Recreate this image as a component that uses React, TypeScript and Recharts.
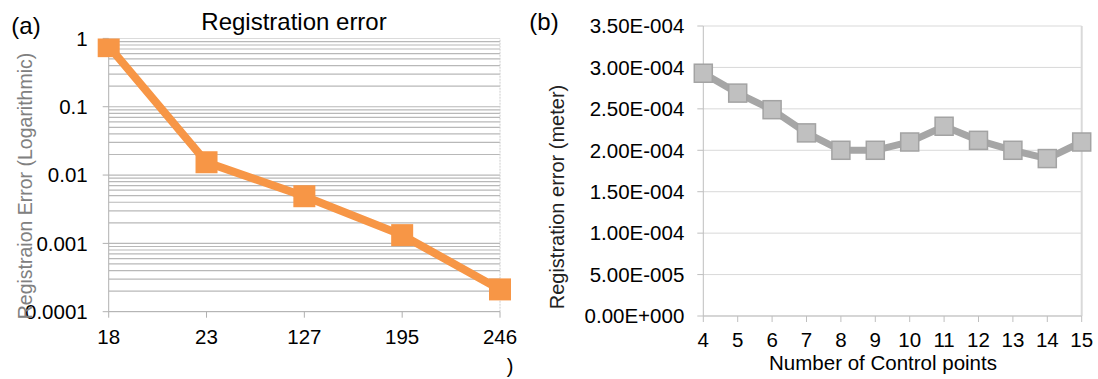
import React from 'react';
import { CartesianGrid, Line, LineChart, ReferenceLine, XAxis, YAxis } from 'recharts';

// (a) registration error on a log scale
const regCategories = ['18', '23', '127', '195', '246'];
const regErrors = [0.77, 0.0154, 0.0049, 0.00132, 0.000212];
const logTicks = [0.0001, 0.001, 0.01, 0.1, 1];
const minorMultipliers = [2, 3, 4, 5, 6, 7, 8, 9];

// (b) registration error vs number of control points
const controlPoints = ['4', '5', '6', '7', '8', '9', '10', '11', '12', '13', '14', '15'];
const controlErrors = [
  2.93e-4, 2.69e-4, 2.49e-4, 2.21e-4, 2.0e-4, 2.0e-4, 2.1e-4, 2.29e-4, 2.12e-4, 2.0e-4, 1.9e-4, 2.1e-4,
];
const linearTicks = [0, 0.5e-4, 1e-4, 1.5e-4, 2e-4, 2.5e-4, 3e-4, 3.5e-4];

const FONT = '"Liberation Sans", Arial, sans-serif';
const ORANGE = '#f79646';

const logGrid = logTicks.slice(0, -1).flatMap((d) => minorMultipliers.map((m) => d * m)).concat(logTicks);

const regData = regCategories.map((name, i) => ({ name, value: regErrors[i] }));
const controlData = controlPoints.map((name, i) => ({ name, value: controlErrors[i] }));

// Excel style: 3.50E-004
const excelExp = (v: number) => {
  const [mant, exp] = v.toExponential(2).split('e');
  const n = parseInt(exp, 10);
  const sign = n < 0 ? '-' : '+';
  return `${mant}E${sign}${String(Math.abs(n)).padStart(3, '0')}`;
};

const Txt = ({ x, y, size = 20, color = '#000', rotate = 0, children }: any) => (
  <div
    style={{
      position: 'absolute',
      left: x,
      top: y,
      transform: `translate(-50%, -50%) rotate(${rotate}deg)`,
      fontFamily: FONT,
      fontSize: size,
      color,
      whiteSpace: 'nowrap',
      lineHeight: 1,
    }}
  >
    {children}
  </div>
);

const OrangeSquare = (props: any) => {
  const { cx, cy } = props;
  if (cx == null || cy == null) return null;
  return <rect x={cx - 11} y={cy - 11} width={22} height={22} fill={ORANGE} />;
};

const GreySquare = (props: any) => {
  const { cx, cy } = props;
  if (cx == null || cy == null) return null;
  return (
    <rect x={cx - 9} y={cy - 9} width={18} height={18} fill="#c0c0c0" stroke="#a3a3a3" strokeWidth={1.5} />
  );
};

const tickStyle = { fill: '#000', fontSize: 20.5, fontFamily: FONT };

export default function App() {
  return (
    <div style={{ position: 'absolute', left: 0, top: 0, width: 1098, height: 379, background: '#fff' }}>
      <div style={{ position: 'absolute', left: 0, top: 0 }}>
        <LineChart width={540} height={379} data={regData} margin={{ top: 38.4, right: 40, bottom: 37.3, left: 8.7 }}>
          {logGrid.map((v) => (
            <ReferenceLine key={v} y={v} stroke="#b8b8b8" strokeWidth={1.2} ifOverflow="hidden" />
          ))}
          <ReferenceLine x="246" stroke="#cccccc" strokeDasharray="2 1" />
          <XAxis
            dataKey="name"
            scale="point"
            padding={{ left: 0, right: 0 }}
            stroke="#b0b0b0"
            tickSize={6}
            tickMargin={11.7}
            tick={tickStyle}
          />
          <YAxis
            width={100}
            scale="log"
            domain={[0.0001, 1]}
            ticks={logTicks}
            allowDataOverflow
            stroke="#b0b0b0"
            tickSize={6}
            tickMargin={15}
            tick={tickStyle}
          />
          <Line
            dataKey="value"
            stroke={ORANGE}
            strokeWidth={8}
            dot={<OrangeSquare />}
            activeDot={false}
            isAnimationActive={false}
          />
        </LineChart>
      </div>

      <div style={{ position: 'absolute', left: 540, top: 0 }}>
        <LineChart width={558} height={379} data={controlData} margin={{ top: 26, right: 16.3, bottom: 33, left: 3.3 }}>
          <CartesianGrid vertical={false} stroke="#d9d9d9" />
          <ReferenceLine x="15" stroke="#d9d9d9" strokeWidth={2} />
          <XAxis
            dataKey="name"
            scale="point"
            padding={{ left: 0, right: 0 }}
            stroke="#bfbfbf"
            tickSize={6}
            tickMargin={10.5}
            tick={tickStyle}
          />
          <YAxis
            width={160}
            domain={[0, 3.5e-4]}
            ticks={linearTicks}
            tickFormatter={excelExp}
            stroke="#bfbfbf"
            tickSize={6}
            tickMargin={13}
            tick={tickStyle}
          />
          <Line
            dataKey="value"
            stroke="#a6a6a6"
            strokeWidth={7}
            dot={<GreySquare />}
            activeDot={false}
            isAnimationActive={false}
          />
        </LineChart>
      </div>

      <Txt x={26} y={26} size={24}>(a)</Txt>
      <Txt x={294} y={22} size={24}>Registration error</Txt>
      <Txt x={26} y={186} size={19.5} color="#808080" rotate={-90}>Registraion Error (Logarithmic)</Txt>
      <Txt x={510} y={366}>)</Txt>

      <Txt x={544} y={22} size={24}>(b)</Txt>
      <Txt x={557} y={197} size={20} color="#222" rotate={-90}>Registration error (meter)</Txt>
      <Txt x={883} y={363} size={20.5}>Number of Control points</Txt>
    </div>
  );
}
